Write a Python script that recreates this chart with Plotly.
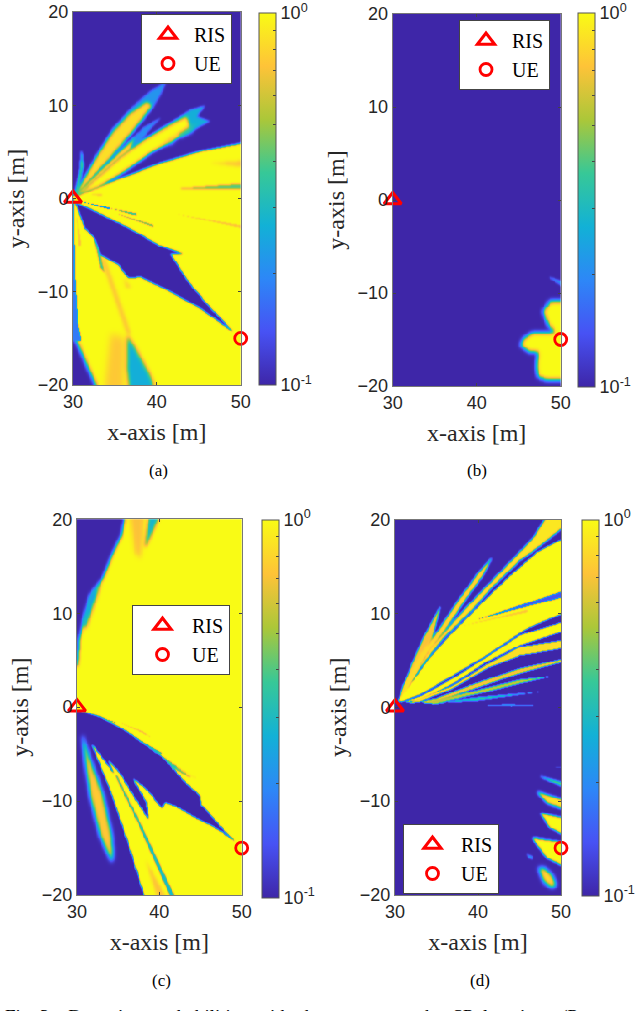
import numpy as np
import plotly.graph_objects as go

# tick labels and axes
x_ticks = [30, 40, 50]
y_ticks = [-20, -10, 0, 10, 20]
marker_ris = (30, 0)
marker_ue = (50, -15)

# Each region: (level 0..1 on the log colour bar, edge softness in m, outline in m)
regions_a = [
    (1.0, 0.12, [(30,0),(31.6,.76),(35.2,2.0),(40.4,3.8),(45.1,5.05),(50,6.1),(50,-20),(30,-20)]),
    (0.0, 0.10, [(30.2,-.34),(33.2,-1.6),(37.2,-3.4),(40.2,-5.0),(43,-5.9),(41.6,-5.9),(43.6,-8.75),(45.9,-11.25),(48.7,-13.9),(49.2,-14.4),(45.15,-11.8),(41.2,-9.8),(38,-8.45),(36.6,-8.6),(35.4,-7.15),(34,-6.4),(33.2,-6),(32.5,-4.2),(31.4,-3.2),(30.4,-.7)]),
    (0.5, 0.10, [(32.5,-4.2),(33.3,-6.1),(33.8,-8),(33.3,-7.4)]),
    (0.85, 0.2, [(33.3,-6.4),(36.4,-14.5),(36.9,-14.5),(33.8,-6.4)]),
    (0.87, 0.2, [(36,-8.5),(37,-9.6),(36.3,-9.5)]),
    (0.87, 0.4, [(34.5,-14.5),(36.2,-15),(36,-20),(33.7,-20)]),
    (0.42, 0.25, [(36.5,-14.7),(37.4,-16),(39.2,-19),(40,-20),(36.8,-20),(36.4,-18)]),
    (0.0, 0.25, [(30,-13.4),(30.4,-15.2),(31.4,-17.3),(33.2,-20),(30,-20)]),
    (0.25, 0.07, [(30,0),(30.12,0),(30.25,-8),(30.6,-13.4),(31,-15.2),(30,-15.2)]),
    (0.85, 0.08, [(30.4,-1.5),(31,-5),(30.7,-5)]),
    (0.2, 0.06, [(30.8,-.25),(34.4,-1.0),(34.4,-1.2)]),
    (0.5, 0.07, [(34.4,-1.05),(37.6,-1.6),(37.6,-1.85)]),
    (0.6, 0.07, [(35.2,-1.6),(39.6,-2.85),(39.6,-3.1)]),
    (0.85, 0.08, [(42,-1.6),(50,-3.05),(50,-3.35)]),
    (0.33, 0.14, [(30.2,.4),(32.8,4.5),(34.8,7.6),(37.2,9.9),(39.2,11.5),(41.05,12.5),(40.4,11.1),(39.2,9.35),(37.2,7.2),(34.8,4.5),(31.6,1.3)]),
    (0.93, 0.2, [(30.3,.4),(32.8,4.4),(34.8,7.2),(36.8,9.1),(38.8,10.4),(39.4,10.0),(37.4,7.6),(34.8,4.8),(31.6,1.4)]),
    (0.3, 0.12, [(30.3,.3),(33.2,3.1),(36,5.6),(38.4,7.6),(40.4,8.7),(38.8,7),(36.4,4.5),(33.6,2.4),(30.8,.4)]),
    (0.95, 0.17, [(30.4,.4),(33.2,2.9),(35.6,5),(37.4,6.5),(36.6,4.9),(33.6,2.4),(30.8,.4)]),
    (0.42, 0.13, [(30.6,.4),(35.6,4.5),(38.4,6.3),(41.2,7.9),(44,9.5),(45.75,10),(44.75,8.8),(46.3,8.3),(44,7.2),(41.6,6.1),(39.2,4.9),(36.4,3.1),(33.2,1.3),(30.8,.4)]),
    (1.0, 0.2, [(30.6,.4),(35.6,4.4),(38.4,6.2),(41,7.6),(43.5,8.8),(44,7.4),(41.3,6),(39.2,4.9),(36.4,3.1),(33.2,1.3)]),
    (0.86, 0.25, [(40.5,5.8),(42.5,7.1),(41.8,6)]),
    (0.5, 0.22, [(42.5,6.9),(44.8,8.2),(44.2,7.2),(42.8,6.5)]),
    (0.6, 0.13, [(30.2,.5),(30.8,3),(31.03,5.4),(31.25,3.5),(30.6,.6)]),
    (0.85, 0.2, [(46.5,3.8),(50,4.1),(50,3.3)]),
    (0.6, 0.12, [(42.8,1.1),(50,1.65),(50,1.1)]),
    (0.85, 0.1, [(32.2,.4),(33.5,.45),(33.5,.2)]),
]

regions_b = [
    (1.0, 0.24, [(50,-10.75),(48.7,-10.9),(47.9,-12),(48.5,-13.4),(49.3,-14.3),(48.3,-14.2),(46.7,-14.2),(45.6,-14.9),(45.2,-15.6),(46.2,-16.3),(47.3,-16.3),(47.1,-17.9),(47.3,-19),(48.3,-19.35),(50,-19.35)]),
    (0.3, 0.12, [(48.5,-8.2),(50,-9),(50,-9.9)]),
]

regions_c = [
    (1.0, 0.01, [(30,20),(50,20),(50,-20),(30,-20)]),
    (0.0, 0.2, [(30,20),(36,20),(35.4,18.3),(34.4,16.5),(33.2,13.8),(31.6,11.85),(30.8,9.3),(30.3,7.2),(30.05,4.4),(30,4.4)]),
    (0.25, 0.25, [(30.7,8.8),(31.6,11.9),(32.9,13.4),(32,11),(31,8.4)]),
    (0.85, 0.28, [(36.3,20),(38.2,20),(38,18),(37.7,15.8),(37,16.5)]),
    (0.45, 0.2, [(38.8,20),(40.3,20),(38.7,17.7),(38.2,16.9)]),
    (0.0, 0.09, [(30.2,-.3),(32.8,-1.0),(35.2,-2.1),(36.8,-3),(40.5,-5.3),(41.7,-6.5),(43.3,-8.1),(44.9,-9.4),(45.1,-10.4),(45.9,-11.1),(47.3,-12.6),(49.3,-14.4),(47.3,-13.1),(44.5,-11.8),(42.1,-10.6),(40.7,-10.1),(40.3,-10.8),(38.4,-8.7),(36.8,-7.6),(38.4,-10),(38.7,-12),(36.8,-9.4),(35.2,-7),(33.8,-5.6),(34.6,-7.2),(31.8,-3.9),(34,-8.7),(36.05,-14),(38.5,-20),(30,-20),(30,-.3)]),
    (0.88, 0.25, [(30.6,-2.8),(31,-5.8),(31.6,-9.4),(32.8,-13.6),(34.2,-16.5),(34.4,-15.8),(34.2,-13.6),(33.2,-9.4),(31.6,-5.5)]),
    (0.45, 0.09, [(34.6,-7.2),(37.7,-12.9),(41.7,-20),(42.3,-20),(38,-12.9),(34.8,-7.2)]),
    (0.85, 0.18, [(38.3,-16.2),(40,-20),(41.3,-20)]),
    (0.5, 0.09, [(40.5,-5.3),(43,-6.9),(43.8,-7.5),(41.7,-6.5)]),
    (0.85, 0.1, [(41.7,-6.3),(44.5,-7.6),(42.4,-6.5)]),
    (0.45, 0.07, [(36.8,-3.05),(40.5,-5),(39.5,-4.8)]),
    (0.45, 0.06, [(32,-.8),(35,-1.7),(34,-1.5)]),
    (0.8, 0.07, [(35,-1.5),(38,-2.6),(39,-3.2)]),
]

regions_d = [
    (0.85, 0.1, [(30.4,.5),(32,4.5),(33.5,7.5),(35.5,10.8),(34.6,7.6),(33.2,4.7),(31,1)]),
    (0.92, 0.12, [(31,2.3),(33,5.6),(35.4,8.4),(37.8,11.6),(39.8,14),(41.8,16.1),(40.6,14),(38.6,11.6),(36.2,8.4),(33,4.5),(30.6,.9)]),
    (0.95, 0.12, [(31,1.8),(34.2,6.2),(37,9.1),(39,11),(43.1,14.75),(46.7,18.1),(48.7,20),(50,20),(50,19.7),(47.5,17.2),(45,15.6),(42.2,13.2),(39,10.1),(35.8,7.3),(33,4.1),(31,1.3)]),
    (1.0, 0.08, [(30.4,.7),(33.8,4.8),(37,8),(40.2,10.85),(43.5,13.7),(47.1,16.5),(50,18.3),(50,10.3),(45.9,8.4),(41,5.5),(37,3.4),(33,1.3),(30.8,.6)]),
    (0.15, 0.07, [(39.8,9.3),(50,12.6),(50,11.9),(44,10.3)]),
    (0.85, 0.08, [(37.9,8.6),(46,10.4),(46,10.15)]),
    (1.0, 0.07, [(31,.5),(33,1.1),(37,3.05),(41,5.3),(45.06,7.66),(50,9.25),(50,8.3),(45.06,6.6),(41,4.82),(37,2.5),(33,.74)]),
    (0.93, 0.07, [(31.5,.4),(37,2.3),(41,4.5),(45,6.4),(50,7.2),(50,6.4),(45,5.5),(41,4.1),(37,2),(33,.57)]),
    (0.85, 0.07, [(33,.55),(35,.9),(39,2.3),(45,4.1),(50,5.25),(50,5),(45,3.6),(39,1.8),(34.6,.4)]),
    (0.75, 0.07, [(33.5,.5),(39,1.6),(45,2.9),(48.7,3.25),(45,2.5),(40,1.4),(35,.35)]),
    (0.55, 0.08, [(35,.45),(40,1),(47.7,1.65),(44,1.2),(40,.7)]),
    (0.3, 0.06, [(39.8,.25),(44,.32),(46.7,.2),(44,.1)]),
    (0.15, 0.08, [(48.6,-6.3),(50,-6.6),(50,-6.3)]),
    (0.65, 0.12, [(47.3,-7.3),(50,-8.2),(50,-8.9)]),
    (0.95, 0.16, [(47.1,-9),(50,-10.1),(50,-11.1),(48.3,-10.25)]),
    (1.0, 0.13, [(47.5,-11.3),(50,-12),(50,-14),(48.7,-12.9)]),
    (1.0, 0.13, [(46.5,-13.9),(50,-14.5),(50,-17.3),(48.3,-16.1),(47.1,-14.7)]),
    (0.3, 0.1, [(45.8,-15.6),(46.6,-15.9),(46.6,-16.3),(46.1,-16.1)]),
    (0.95, 0.25, [(47.3,-17.2),(47.9,-17.1),(48.9,-17.9),(49.4,-19),(48.9,-19.3),(47.9,-18.6)]),
]

parula = [[0, "#3e26a8"], [1/7, "#4752f4"], [2/7, "#2d87f7"], [3/7, "#12b1d6"],
          [4/7, "#37c897"], [5/7, "#abc739"], [6/7, "#fec338"], [1, "#f9fb15"]]

grid_x = np.linspace(30, 50, 201)
grid_y = np.linspace(-20, 20, 401)


def widen(v, lo, hi):
    # outlines that touch the frame are carried past it so the last grid line is covered
    return lo - 1 if v <= lo else hi + 1 if v >= hi else v


def inside(poly):
    poly = [(widen(a, 30, 50), widen(b, -20, 20)) for a, b in poly]
    gx, gy = np.meshgrid(grid_x, grid_y)
    res = np.zeros(gx.shape, bool)
    n = len(poly)
    for i in range(n):
        x0, y0 = poly[i]
        x1, y1 = poly[(i + 1) % n]
        if y0 == y1:
            continue
        cond = (y0 > gy) != (y1 > gy)
        res ^= cond & (gx < (x1 - x0) * (gy - y0) / (y1 - y0) + x0)
    return res.astype(float)


def soften(m, sigma):
    s = sigma / 0.1
    r = max(1, int(3 * s))
    k = np.exp(-0.5 * (np.arange(-r, r + 1) / max(s, 1e-3)) ** 2)
    k /= k.sum()
    for ax in (0, 1):
        pad = [(0, 0), (0, 0)]
        pad[ax] = (r, r)
        p = np.pad(m, pad, mode="edge")
        m = np.apply_along_axis(lambda v: np.convolve(v, k, mode="valid"), ax, p)
    return m


def build(regions):
    z = np.zeros((len(grid_y), len(grid_x)))
    for level, sig, poly in regions:
        m = soften(inside(poly), sig)
        z = z * (1 - m) + level * m
    return np.round(z - 1, 3)


panels = [
    dict(reg=regions_a, px=(73, 240.7), py=(12, 385), cb=259, cby=(13, 385), leg=(141, 14), iw=42, lab="(a)", labpos=(158, 470), n=""),
    dict(reg=regions_b, px=(392.7, 560.7), py=(14, 386), cb=578, cby=(13, 387), leg=(459, 20), iw=42, lab="(b)", labpos=(477, 470), n="2"),
    dict(reg=regions_c, px=(77, 241.7), py=(519.3, 895), cb=262, cby=(519.5, 897), leg=(132, 605), iw=49, lab="(c)", labpos=(161, 980), n="3"),
    dict(reg=regions_d, px=(395, 561), py=(519.5, 895), cb=582, cby=(519.5, 895), leg=(403, 824), iw=47, lab="(d)", labpos=(480, 980), n="4"),
]

W, H = 640, 1011
fig = go.Figure()
layout = dict(width=W, height=H, margin=dict(l=0, r=0, t=0, b=0, autoexpand=False), paper_bgcolor="white",
              plot_bgcolor="white", annotations=[])
cb_vals = [float(np.log10(k / 10)) for k in range(1, 11)]
cb_text = ["10<sup>-1</sup>"] + [""] * 8 + ["10<sup>0</sup>"]
tick_font = dict(family="Liberation Sans", size=18, color="#262626")
label_font = dict(family="Liberation Serif", size=24, color="#262626")

for p in panels:
    xa, ya = "x" + p["n"], "y" + p["n"]
    leg = "legend" + p["n"]
    fig.add_trace(go.Heatmap(
        x=grid_x, y=grid_y, z=build(p["reg"]), xaxis=xa, yaxis=ya, zmin=-1, zmax=0,
        colorscale=parula, hoverinfo="skip",
        colorbar=dict(x=p["cb"] / W, xanchor="left", xpad=0, ypad=0, thickness=17,
                      lenmode="pixels", len=p["cby"][1] - p["cby"][0],
                      y=1 - p["cby"][0] / H, yanchor="top",
                      tickmode="array", tickvals=cb_vals, ticktext=cb_text,
                      ticks="inside", ticklen=3, tickcolor="#444",
                      outlinecolor="#555", outlinewidth=1, tickfont=tick_font)))
    fig.add_trace(go.Scatter(x=[marker_ris[0]], y=[marker_ris[1]], name="RIS", mode="markers",
                             xaxis=xa, yaxis=ya, legend=leg, cliponaxis=False,
                             marker=dict(symbol="triangle-up-open", size=15, color="#ff0000",
                                         line=dict(width=3, color="#ff0000"))))
    fig.add_trace(go.Scatter(x=[marker_ue[0]], y=[marker_ue[1]], name="UE", mode="markers",
                             xaxis=xa, yaxis=ya, legend=leg, cliponaxis=False,
                             marker=dict(symbol="circle-open", size=12, color="#ff0000",
                                         line=dict(width=2.8, color="#ff0000"))))
    common = dict(showgrid=False, zeroline=False, ticks="inside", ticklen=3, tickcolor="#444",
                  showline=True, linecolor="#777", linewidth=1, mirror="ticks", tickfont=tick_font)
    layout["xaxis" + p["n"]] = dict(common, domain=[p["px"][0] / W, p["px"][1] / W], range=[30, 50],
                                    tickvals=x_ticks, anchor=ya,
                                    title=dict(text="x-axis [m]", font=label_font, standoff=12))
    layout["yaxis" + p["n"]] = dict(common, domain=[1 - p["py"][1] / H, 1 - p["py"][0] / H], range=[-20, 20],
                                    tickvals=y_ticks, anchor=xa,
                                    title=dict(text="y-axis [m]", font=label_font, standoff=6))
    layout[leg] = dict(x=p["leg"][0] / W, y=1 - p["leg"][1] / H, xanchor="left", yanchor="top",
                       bgcolor="white", bordercolor="#444", borderwidth=1, itemwidth=p["iw"],
                       font=dict(family="Liberation Serif", size=20, color="black"))
    layout["annotations"].append(dict(text=p["lab"], x=p["labpos"][0] / W, y=1 - p["labpos"][1] / H,
                                      xref="paper", yref="paper", showarrow=False, xanchor="center",
                                      yanchor="middle",
                                      font=dict(family="Liberation Serif", size=17, color="black")))

nb = "\u00a0"
layout["annotations"].append(dict(
    text=f"Fig. 3.{nb}{nb}{nb}Detection{nb}{nb}probabilities{nb}{nb}with{nb}{nb}the{nb}{nb}respect{nb}{nb}to{nb}{nb}the{nb}{nb}SP{nb}{nb}locations{nb}{nb}(P",
    x=3 / W, y=1 - 1004 / H, xref="paper", yref="paper", showarrow=False, xanchor="left", yanchor="top",
    font=dict(family="Liberation Serif", size=19, color="black")))
fig.update_layout(**layout)
fig.write_html("out.html", config={"displayModeBar": False},
               post_script="document.body.style.margin='0';document.body.style.overflow='hidden';")
